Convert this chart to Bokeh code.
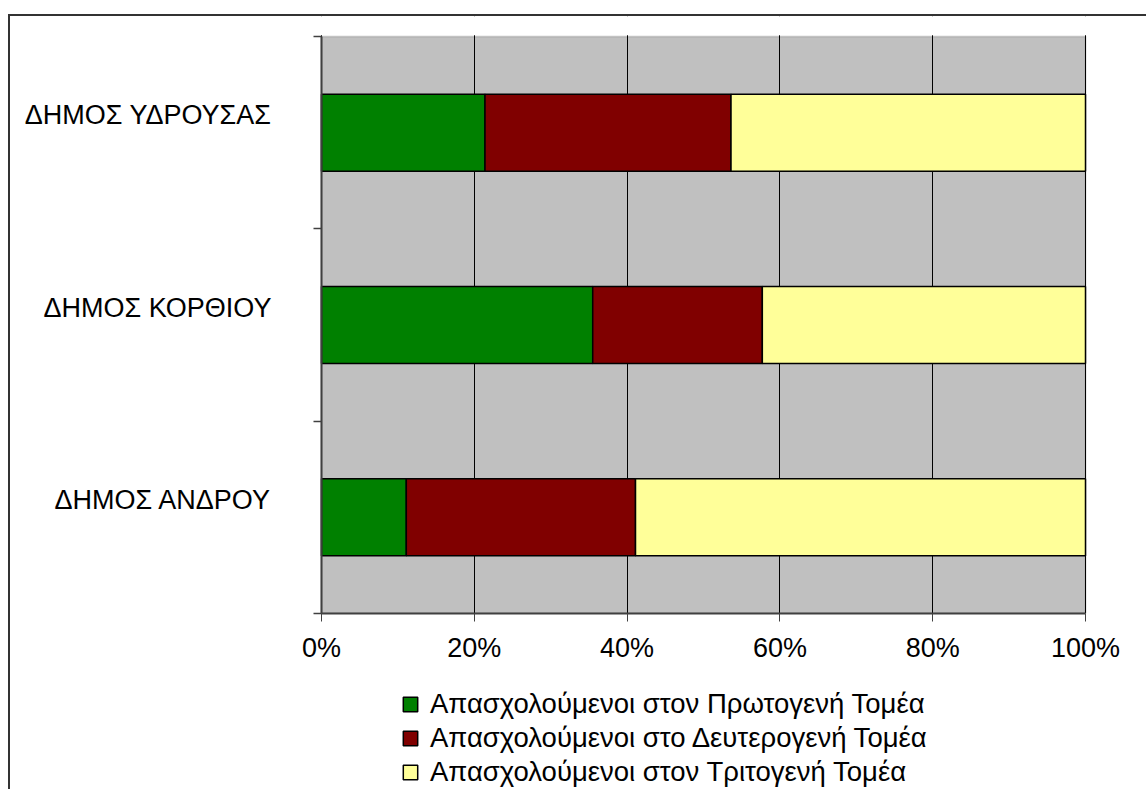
from bokeh.plotting import figure
from bokeh.models import (ColumnDataSource, Range1d, FixedTicker, NumeralTickFormatter,
                          Legend, LinearAxis, BoxAnnotation)
from bokeh.embed import file_html
from bokeh.resources import INLINE

# ---- data (shares, %) ----
municipalities = ["ΔΗΜΟΣ ΑΝΔΡΟΥ", "ΔΗΜΟΣ ΚΟΡΘΙΟΥ", "ΔΗΜΟΣ ΥΔΡΟΥΣΑΣ"]
primary = [11.1, 35.5, 21.4]
secondary = [30.0, 22.2, 32.2]
tertiary = [58.9, 42.3, 46.4]
series_names = ["Απασχολούμενοι στον Πρωτογενή Τομέα",
                "Απασχολούμενοι στο Δευτερογενή Τομέα",
                "Απασχολούμενοι στον Τριτογενή Τομέα"]
x_ticks = [0, 0.2, 0.4, 0.6, 0.8, 1.0]
colors = ["#008000", "#800000", "#FFFF99"]

FONT = "Liberation Sans"
FS = "27px"

n = len(municipalities)
ypos = list(range(n))
source = ColumnDataSource(dict(
    y=ypos,
    primary=[v / 100 for v in primary],
    secondary=[v / 100 for v in secondary],
    tertiary=[v / 100 for v in tertiary],
))

# canvas 1136 x 773; plot area 764 x 577 at (311, 20) inside it
CW, CH = 1136, 773
PL, PT, PW, PH = 311, 20, 764, 577
ppx = PW / 1.0
ppy = PH / n
x_range = Range1d(-PL / ppx, 1 + (CW - PL - PW) / ppx)
y_range = Range1d(-0.5 - (CH - PT - PH) / ppy, n - 0.5 + PT / ppy)

p = figure(frame_width=CW, frame_height=CH,
           min_border_left=0, min_border_right=0,
           min_border_top=0, min_border_bottom=0,
           x_range=x_range, y_range=y_range,
           x_axis_location=None, y_axis_location=None,
           output_backend="svg", toolbar_location=None)
p.styles = {"border-top": "2px solid #333333", "border-left": "2px solid #333333",
            "margin-top": "14px", "margin-left": "8px"}

p.background_fill_color = "white"
p.border_fill_color = "white"
p.outline_line_color = None

# gray plot area with gray outline
p.add_layout(BoxAnnotation(left=0, right=1, bottom=-0.5, top=n - 0.5,
                           fill_color="#C0C0C0", fill_alpha=1,
                           line_color="#808080", line_width=2, level="image"))
# white areas outside the plot area (hide grid lines there)
p.add_layout(BoxAnnotation(top=-0.5, fill_color="white", fill_alpha=1,
                           line_color=None, level="glyph"))
p.add_layout(BoxAnnotation(bottom=n - 0.5 + 0.006, fill_color="white", fill_alpha=1,
                           line_color=None, level="glyph"))

renderers = p.hbar_stack(["primary", "secondary", "tertiary"], y="y", height=0.4,
                         color=colors, line_color="black", line_width=1.5,
                         source=source)

# x axis at the bottom of the plot area
xa = LinearAxis(fixed_location=-0.5, bounds=(0, 1))
xa.ticker = FixedTicker(ticks=x_ticks)
xa.formatter = NumeralTickFormatter(format="0%")
xa.major_tick_out = 8
xa.major_tick_in = 0
xa.minor_tick_line_color = None
xa.axis_line_color = "#404040"
xa.axis_line_width = 2
xa.major_tick_line_color = "#404040"
xa.major_label_text_font = FONT
xa.major_label_text_font_size = FS
xa.major_label_text_color = "black"
xa.major_label_standoff = 11
p.add_layout(xa, "below")

# y axis: labels (major, no tick) and boundary ticks (minor)
label_pos = [i + 0.09 for i in ypos]
ya = LinearAxis(fixed_location=0, bounds=(-0.5, n - 0.5))
ya.ticker = FixedTicker(ticks=label_pos,
                        minor_ticks=[i - 0.5 for i in range(n + 1)])
ya.major_label_overrides = {lp: name for lp, name in zip(label_pos, municipalities)}
ya.major_tick_out = 0
ya.major_tick_in = 0
ya.major_tick_line_color = None
ya.minor_tick_out = 8
ya.minor_tick_in = 0
ya.minor_tick_line_color = "#404040"
ya.minor_tick_line_width = 1.5
ya.axis_line_color = "#404040"
ya.axis_line_width = 2
ya.major_label_text_font = FONT
ya.major_label_text_font_size = FS
ya.major_label_text_color = "black"
ya.major_label_standoff = 42
p.add_layout(ya, "left")

# grid
p.ygrid.grid_line_color = None
p.xgrid.ticker = FixedTicker(ticks=x_ticks)
p.xgrid.grid_line_color = "black"
p.xgrid.grid_line_width = 1

# legend under the plot area
legend = Legend(items=[(nm, [r]) for nm, r in zip(series_names, renderers)],
                location=(391, 1), orientation="vertical")
legend.glyph_width = 18
legend.glyph_height = 18
legend.label_standoff = 11
legend.spacing = 2
legend.padding = 0
legend.margin = 0
legend.border_line_color = None
legend.background_fill_alpha = 0
legend.label_text_font = FONT
legend.label_text_font_size = "27.5px"
legend.label_text_color = "black"
legend.label_height = 28
p.add_layout(legend, "center")

open("out.html", "w").write(file_html(p, INLINE))
